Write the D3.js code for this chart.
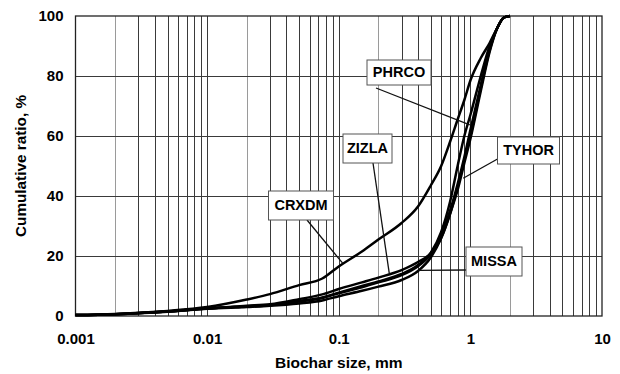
<!DOCTYPE html>
<html>
<head>
<meta charset="utf-8">
<script src="https://cdn.jsdelivr.net/npm/d3@7"></script>
<style>
  body { margin: 0; background: #fff; }
  text { font-family: "Liberation Sans", Arial, sans-serif; font-weight: bold; fill: #000; }
</style>
</head>
<body>
<div class="graphics"></div>
<script>
// tamaños de tamiz (mm) y porcentaje acumulado de cada muestra
var sizes = [0.001, 0.002, 0.005, 0.01, 0.02, 0.03, 0.05, 0.075, 0.1, 0.15, 0.2, 0.3,
             0.4, 0.5, 0.6, 0.7, 0.8, 0.9, 1.0, 1.2, 1.4, 1.6, 1.8, 2.0]
var CRXDM = [0.3, 0.7, 1.7, 3.0, 5.5, 7.3, 10.3, 12.5, 16.5, 21.5, 25.5, 31,
             36.5, 43.5, 50, 58, 65.5, 72, 78.5, 86, 91, 96, 99.5, 100]
var PHRCO = [0.3, 0.6, 1.5, 2.5, 3.2, 3.6, 5.0, 6.2, 7.8, 10, 11.5, 14,
             17, 21, 28, 38, 50, 60, 67, 80, 90, 96, 99.5, 100]
var ZIZLA = [0.3, 0.6, 1.5, 2.5, 3.4, 3.9, 5.6, 7.2, 9.0, 11.2, 12.8, 15.3,
             18, 21, 27, 35, 44, 53, 62, 77, 89, 96, 99.5, 100]
var TYHOR = [0.3, 0.6, 1.5, 2.5, 3.2, 3.6, 4.8, 6.0, 7.6, 9.6, 11.2, 13.6,
             16.6, 20.5, 26, 34, 43, 52, 60, 76, 88.5, 96, 99.5, 100]
var MISSA = [0.3, 0.6, 1.4, 2.4, 3.0, 3.4, 4.2, 5.2, 6.6, 8.4, 9.8, 12,
             15, 19.5, 26, 34, 42, 51, 59, 75, 88, 96, 99.5, 100]

var xTicks = [0.001, 0.01, 0.1, 1, 10]
var xTickLabels = ["0.001", "0.01", "0.1", "1", "10"]
var yTicks = [0, 20, 40, 60, 80, 100]

// etiquetas: nombre y punto de la curva al que apunta (tamaño, %)
var labelNames = ["PHRCO", "ZIZLA", "TYHOR", "CRXDM", "MISSA"]
var labelTargets = [[0.99, 63.7], [0.242, 14.2], [0.882, 45.9], [0.107, 17.6], [0.403, 15.2]]

var series = [
  {name: "CRXDM", values: CRXDM},
  {name: "PHRCO", values: PHRCO},
  {name: "ZIZLA", values: ZIZLA},
  {name: "TYHOR", values: TYHOR},
  {name: "MISSA", values: MISSA}
]

var w = 620, h = 374
// ojo: "top" es reservado en window, uso otros nombres
var pL = 75.5, pR = 602, pT = 16, pB = 316

var svg = d3.select('.graphics')
    .append('svg')
    .attr("width", w)
    .attr("height", h)

var x = d3.scaleLog().domain([0.001, 10]).range([pL, pR])
var y = d3.scaleLinear().domain([0, 100]).range([pB, pT])

// rejilla vertical (todas las divisiones 1..9 de cada década)
var minor = []
for (var e = -3; e < 1; e++) {
    for (var m = 1; m <= 9; m++) {
        if (m == 1 && e == -3) continue
        minor.push({v: m * Math.pow(10, e), m: m})
    }
}
svg.selectAll('line.vgrid')
    .data(minor)
    .enter()
    .append('line')
    .attr('class', 'vgrid')
    .attr("x1", function(d){ return Math.round(x(d.v)) + 0.5 })
    .attr("x2", function(d){ return Math.round(x(d.v)) + 0.5 })
    .attr("y1", pT)
    .attr("y2", pB)
    .attr("stroke", function(d){ return d.m == 2 ? "#9a9a9a" : "#3a3a3a" })
    .attr("stroke-width", 1)

svg.selectAll('line.hgrid')
    .data(yTicks.slice(1, -1))
    .enter()
    .append('line')
    .attr('class', 'hgrid')
    .attr("x1", pL)
    .attr("x2", pR)
    .attr("y1", function(d){ return Math.round(y(d)) + 0.5 })
    .attr("y2", function(d){ return Math.round(y(d)) + 0.5 })
    .attr("stroke", "#3a3a3a")
    .attr("stroke-width", 1)

svg.append('rect')
    .attr("x", pL)
    .attr("y", pT)
    .attr("width", pR - pL)
    .attr("height", pB - pT)
    .attr("fill", "none")
    .attr("stroke", "#222")
    .attr("stroke-width", 1.3)

// ejes con d3.axis, solo para las etiquetas
var xAxis = d3.axisBottom(x)
    .tickValues(xTicks)
    .tickFormat(function(d, i){ return xTickLabels[i] })
    .tickSize(0)
    .tickPadding(17)
var gx = svg.append('g')
    .attr("transform", "translate(0," + pB + ")")
    .call(xAxis)
gx.select('.domain').remove()
gx.selectAll('text').style("font-size", "15px")

var yAxis = d3.axisLeft(y)
    .tickValues(yTicks)
    .tickSize(0)
    .tickPadding(12)
var gy = svg.append('g')
    .attr("transform", "translate(" + pL + ",0)")
    .call(yAxis)
gy.select('.domain').remove()
gy.selectAll('text').style("font-size", "15px")

svg.append('text')
    .attr("x", (pL + pR) / 2)
    .attr("y", 367.5)
    .attr("text-anchor", "middle")
    .style("font-size", "15.5px")
    .text("Biochar size, mm")

svg.append('text')
    .attr("transform", "translate(25.5," + ((pT + pB) / 2) + ") rotate(-90)")
    .attr("text-anchor", "middle")
    .style("font-size", "15.3px")
    .text("Cumulative ratio, %")

// curvas
var line = d3.line()
    .x(function(d, i){ return x(sizes[i]) })
    .y(function(d){ return y(d) })
    .curve(d3.curveMonotoneX)

svg.selectAll('path.curve')
    .data(series)
    .enter()
    .append('path')
    .attr('class', 'curve')
    .attr("d", function(d){ return line(d.values) })
    .attr("fill", "none")
    .attr("stroke", "#000")
    .attr("stroke-width", 2.5)

// cajas de etiquetas (posición en px) y arranque de la línea guía
var boxes = [
    {x: 367, y: 60, w: 64, h: 25, lx: 376, ly: 88},
    {x: 343, y: 134, w: 49, h: 29, lx: 373, ly: 163},
    {x: 497.5, y: 137, w: 62, h: 27, lx: 497.5, ly: 159},
    {x: 268.5, y: 191, w: 65, h: 29, lx: 307, ly: 220},
    {x: 466, y: 247, w: 56, h: 29, lx: 466, ly: 270}
]

var ann = svg.selectAll('g.label')
    .data(labelNames)
    .enter()
    .append('g')
    .attr('class', 'label')

ann.append('line')
    .attr("x1", function(d, i){ return boxes[i].lx })
    .attr("y1", function(d, i){ return boxes[i].ly })
    .attr("x2", function(d, i){ return x(labelTargets[i][0]) })
    .attr("y2", function(d, i){ return y(labelTargets[i][1]) })
    .attr("stroke", "#111")
    .attr("stroke-width", 1.3)

ann.append('rect')
    .attr("x", function(d, i){ return boxes[i].x })
    .attr("y", function(d, i){ return boxes[i].y })
    .attr("width", function(d, i){ return boxes[i].w })
    .attr("height", function(d, i){ return boxes[i].h })
    .attr("fill", "#fff")
    .attr("stroke", "#555")
    .attr("stroke-width", 1)

ann.append('text')
    .attr("x", function(d, i){ return boxes[i].x + boxes[i].w / 2 })
    .attr("y", function(d, i){ return boxes[i].y + boxes[i].h / 2 + 4.5 })
    .attr("text-anchor", "middle")
    .style("font-size", "14.5px")
    .text(function(d){ return d })
</script>
</body>
</html>
